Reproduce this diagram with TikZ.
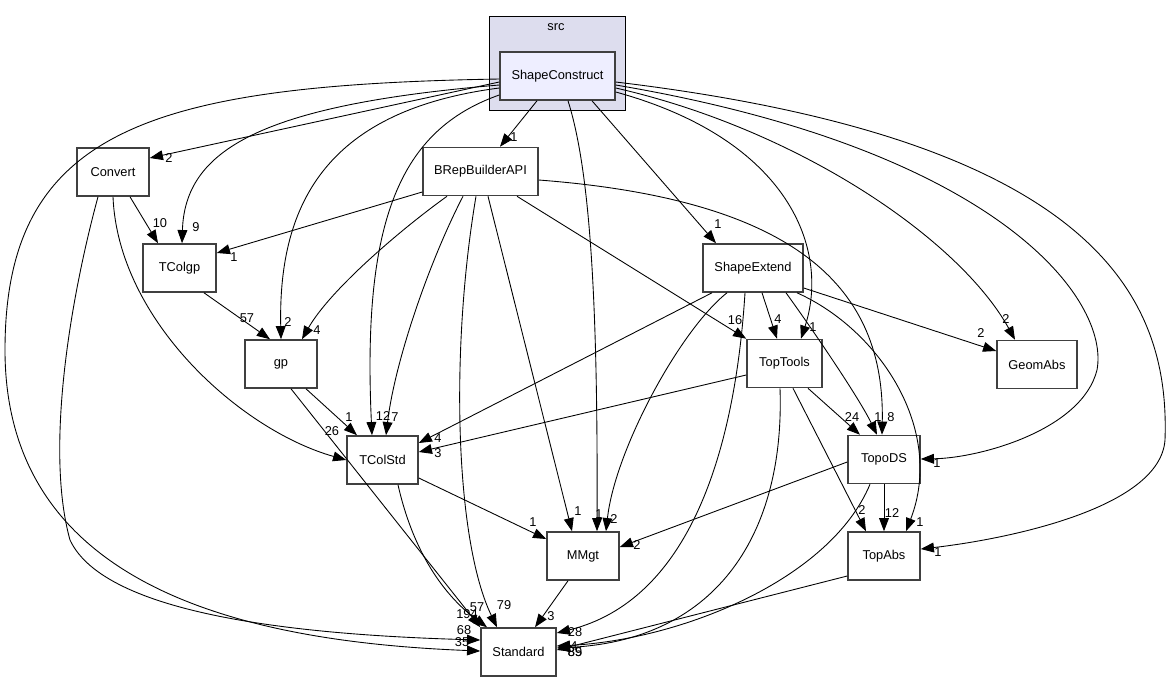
\documentclass[tikz,border=0pt]{standalone}
\usepackage{fontspec}
\setmainfont{Liberation Sans}
\usetikzlibrary{arrows.meta}

\definecolor{srcfill}{HTML}{DDDDEE}
\definecolor{scfill}{HTML}{EEEEFF}

\tikzset{
  pkg/.style={draw=black!75, line width=0.9pt, fill=white, minimum height=0.96cm, inner sep=0pt, font=\fontsize{7.3}{9}\selectfont},
  dep/.style={-{Triangle[length=7.5pt,width=5.6pt]}, line width=0.5pt},
  num/.style={font=\fontsize{7.3}{9}\selectfont, inner sep=0pt},
}

\begin{document}
\begin{tikzpicture}[x=0.02cm, y=-0.02cm]
\useasboundingbox (0,0) rectangle (1171,681);

% the src folder
\draw[black, thin, fill=srcfill] (489,16) rectangle (625,110);
\node[num] (src) at (556,27) {src};

\node[pkg, fill=scfill, minimum width=2.30cm] (sc) at (557.5,76) {ShapeConstruct};

\node[pkg, minimum width=1.44cm] (conv) at (113,172) {Convert};
\node[pkg, minimum width=2.30cm] (brep) at (480.5,171.5) {BRepBuilderAPI};
\node[pkg, minimum width=1.46cm] (tcg) at (179.5,268) {TColgp};
\node[pkg, minimum width=2.00cm] (se) at (753,268) {ShapeExtend};
\node[pkg, minimum width=1.44cm] (gp) at (281,364) {gp};
\node[pkg, minimum width=1.50cm] (tt) at (784.5,363.5) {TopTools};
\node[pkg, minimum width=1.60cm] (ga) at (1037,364.5) {GeomAbs};
\node[pkg, minimum width=1.42cm] (tcs) at (382.5,460) {TColStd};
\node[pkg, minimum width=1.44cm] (topods) at (884,459.5) {TopoDS};
\node[pkg, minimum width=1.44cm] (mmgt) at (583,556) {MMgt};
\node[pkg, minimum width=1.44cm] (topabs) at (884,556) {TopAbs};
\node[pkg, minimum width=1.50cm] (std) at (518.5,652) {Standard};

% ShapeConstruct
\draw[dep] (sc.west |- 0,82) -- (conv.east |- 0,158);
\node[num] (l-sc-conv) at (169,158) {2};
\draw[dep] (sc.west |- 0,85) .. controls (260,105) and (185,150) .. (tcg.north -| 182,0);
\node[num] (l-sc-tcg) at (196,227) {9};
\draw[dep] (sc.west |- 0,88) .. controls (330,110) and (278,200) .. (gp.north -| 281,0);
\node[num] (l-sc-gp) at (288,322) {2};
\draw[dep] (sc.west |- 0,95) .. controls (400,130) and (362,220) .. (tcs.north -| 372,0);
\node[num] (l-sc-tcs) at (383,416) {12};
\draw[dep] (sc.south -| 537,0) -- (brep.north -| 500,0);
\node[num] (l-sc-brep) at (514,137) {1};
\draw[dep] (sc.south -| 568,0) .. controls (590,170) and (598,300) .. (mmgt.north -| 597,0);
\node[num] (l-sc-mmgt) at (599,514) {1};
\draw[dep] (sc.south -| 592,0) -- (se.north -| 716,0);
\node[num] (l-sc-se) at (718,224) {1};
\draw[dep] (sc.east |- 0,92) .. controls (790,140) and (830,250) .. (tt.north -| 801,0);
\node[num] (l-sc-tt) at (813,327) {1};
\draw[dep] (sc.east |- 0,88) .. controls (800,130) and (960,240) .. (ga.north -| 1015,0);
\node[num] (l-sc-ga) at (1006,319) {2};
\draw[dep] (sc.east |- 0,85) .. controls (1000,150) and (1110,300) .. (1097,370)
  .. controls (1082,430) and (980,458) .. (topods.east |- 0,459);
\node[num] (l-sc-topods) at (937,463) {1};
\draw[dep] (sc.east |- 0,82) .. controls (1100,140) and (1170,300) .. (1165,440)
  .. controls (1160,510) and (1000,540) .. (topabs.east |- 0,549);
\node[num] (l-sc-topabs) at (938,552) {1};
\draw[dep] (sc.west |- 0,79) .. controls (150,85) and (5,130) .. (5,350)
  .. controls (5,590) and (250,642) .. (std.west |- 0,651);
\node[num] (l-sc-std) at (462,642) {35};

% Convert
\draw[dep] (conv.south -| 130,0) -- (tcg.north -| 158,0);
\node[num] (l-conv-tcg) at (160,223) {10};
\draw[dep] (conv.south -| 113,0) .. controls (118,320) and (240,430) .. (tcs.west |- 0,460);
\node[num] (l-conv-tcs) at (332,431) {26};
\draw[dep] (conv.south -| 98,0) .. controls (70,300) and (45,450) .. (70,540)
  .. controls (105,615) and (300,635) .. (std.west |- 0,640);
\node[num] (l-conv-std) at (464,630) {68};

% TColgp
\draw[dep] (tcg.south -| 204,0) -- (gp.north -| 270,0);
\node[num] (l-tcg-gp) at (247,318) {57};

% BRepBuilderAPI
\draw[dep] (brep.west |- 0,192) -- (tcg.east |- 0,253);
\node[num] (l-brep-tcg) at (234,257) {1};
\draw[dep] (brep.south -| 447,0) .. controls (400,230) and (330,290) .. (gp.north -| 302,0);
\node[num] (l-brep-gp) at (317,330) {4};
\draw[dep] (brep.south -| 463,0) .. controls (430,260) and (395,360) .. (tcs.north -| 386,0);
\node[num] (l-brep-tcs) at (395,417) {7};
\draw[dep] (brep.south -| 476,0) .. controls (450,350) and (455,540) .. (std.north -| 497,0);
\node[num] (l-brep-std) at (504,605) {79};
\draw[dep] (brep.south -| 488,0) -- (mmgt.north -| 572,0);
\node[num] (l-brep-mmgt) at (578,511) {1};
\draw[dep] (brep.south -| 517,0) -- (tt.north west);
\node[num] (l-brep-tt) at (735,320) {16};
\draw[dep] (brep.east |- 0,180) .. controls (800,200) and (885,290) .. (topods.north -| 882,0);
\node[num] (l-brep-topods) at (891,417) {8};

% ShapeExtend
\draw[dep] (se.south -| 712,0) -- (tcs.east |- 0,443);
\node[num] (l-se-tcs) at (438,438) {4};
\draw[dep] (se.south -| 727,0) .. controls (680,330) and (615,450) .. (mmgt.north -| 606,0);
\node[num] (l-se-mmgt) at (614,519) {2};
\draw[dep] (se.south -| 745,0) .. controls (735,450) and (690,600) .. (std.east |- 0,633);
\node[num] (l-se-std) at (575,632) {28};
\draw[dep] (se.south -| 762,0) -- (tt.north -| 777,0);
\node[num] (l-se-tt) at (778,319) {4};
\draw[dep] (se.south -| 786,0) .. controls (820,340) and (860,400) .. (topods.north -| 877,0);
\node[num] (l-se-topods) at (878,417) {1};
\draw[dep] (se.south -| 797,0) .. controls (880,330) and (945,430) .. (topabs.north -| 906,0);
\node[num] (l-se-topabs) at (920,522) {1};
\draw[dep] (se.east |- 0,288) -- (ga.west |- 0,351);
\node[num] (l-se-ga) at (981,333) {2};

% TopTools
\draw[dep] (tt.west |- 0,375) -- (tcs.east |- 0,452);
\node[num] (l-tt-tcs) at (438,453) {3};
\draw[dep] (tt.south -| 808,0) -- (topods.north -| 860,0);
\node[num] (l-tt-topods) at (852,417) {24};
\draw[dep] (tt.south -| 793,0) -- (topabs.north -| 866,0);
\node[num] (l-tt-topabs) at (862,510) {2};
\draw[dep] (tt.south -| 780,0) .. controls (785,530) and (720,640) .. (std.east |- 0,648);
\node[num] (l-tt-std) at (575,652) {89};

% gp
\draw[dep] (gp.south -| 306,0) -- (tcs.north -| 357,0);
\node[num] (l-gp-tcs) at (349,417) {1};
\draw[dep] (gp.south -| 291,0) -- (std.north west);
\node[num] (l-gp-std) at (467,614) {194};

% TColStd
\draw[dep] (tcs.east |- 0,478) -- (mmgt.west |- 0,539);
\node[num] (l-tcs-mmgt) at (533,522) {1};
\draw[dep] (tcs.south -| 398,0) .. controls (415,560) and (450,600) .. (std.north -| 487,0);
\node[num] (l-tcs-std) at (477,607) {57};

% MMgt
\draw[dep] (mmgt.south -| 568,0) -- (std.north -| 535,0);
\node[num] (l-mmgt-std) at (551,616) {3};

% TopoDS
\draw[dep] (topods.west |- 0,462) -- (mmgt.east |- 0,547);
\node[num] (l-topods-mmgt) at (637,545) {2};
\draw[dep] (topods.south) -- (topabs.north);
\node[num] (l-topods-topabs) at (892,513) {12};
\draw[dep] (topods.south -| 870,0) .. controls (830,580) and (680,640) .. (std.east |- 0,646);
\node[num] (l-topods-std) at (575,652) {85};

% TopAbs
\draw[dep] (topabs.west |- 0,576) -- (std.east |- 0,650);
\node[num] (l-topabs-std) at (574,646) {4};

\end{tikzpicture}
\end{document}
